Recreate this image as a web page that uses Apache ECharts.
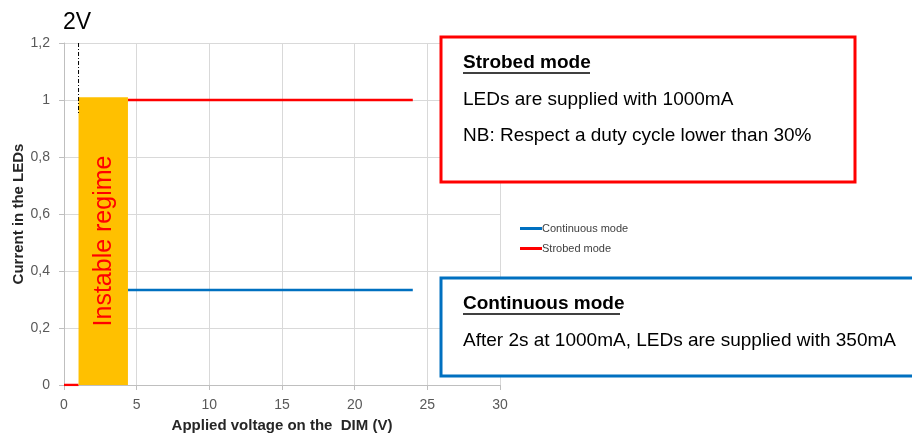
<!DOCTYPE html>
<html>
<head>
<meta charset="utf-8">
<script src="https://cdn.jsdelivr.net/npm/echarts@6/dist/echarts.min.js"></script>
<style>
  html, body { margin: 0; padding: 0; background: #fff; }
  #chart { width: 912px; height: 438px; }
</style>
</head>
<body>
<div id="chart"></div>
<script>
// axes
const xTicks = [0, 5, 10, 15, 20, 25, 30];
const yTicks = [0, 0.2, 0.4, 0.6, 0.8, 1, 1.2];

// series (null = break in the line)
const strobedX = [0, 1, null, 4.4, 24];
const strobedY = [0, 0, null, 1, 1];
const continuousX = [4.4, 24];
const continuousY = [0.333, 0.333];

// instable regime band (x from, x to, top)
const instableX = [1, 4.4];
const instableTop = 1.01;

// 2V marker
const markerX = [1, 1];
const markerY = [1.2, 0.95];

const font = 'Liberation Sans, Arial, sans-serif';

function pairs(xs, ys) {
    return xs.map((x, i) => (x === null ? ['-', '-'] : [x, ys[i]]));
}

const chart = echarts.init(document.getElementById('chart'));

// texte des encadrés
function box(x, y, w, h, color, title, lines, titleY, lineYs, underlineW) {
    const els = [{
        type: 'rect',
        shape: { x: x, y: y, width: w, height: h },
        style: { fill: '#fff', stroke: color, lineWidth: 3 },
        z: 100
    }, {
        type: 'text',
        x: 463, y: titleY,
        style: { text: title, font: 'bold 19px ' + font, fill: '#000', verticalAlign: 'middle' },
        z: 101
    }, {
        type: 'line',
        shape: { x1: 463, y1: titleY + 10, x2: 463 + underlineW, y2: titleY + 10 },
        style: { stroke: '#000', lineWidth: 1.5 },
        z: 101
    }];
    lines.forEach((t, i) => {
        els.push({
            type: 'text',
            x: 463, y: lineYs[i],
            style: { text: t, font: '19px ' + font, fill: '#000', verticalAlign: 'middle' },
            z: 101
        });
    });
    return els;
}

const option = {
    animation: false,
    grid: { left: 64, right: 412, top: 43, bottom: 53, containLabel: false, outerBoundsMode: 'none' },
    legend: {
        orient: 'vertical',
        left: 515,
        top: 218,
        itemWidth: 22,
        itemHeight: 3,
        itemGap: 9,
        icon: 'rect',
        textStyle: { fontSize: 11, color: '#404040', fontFamily: font, padding: [0, 0, 0, -5] },
        data: ['Continuous mode', 'Strobed mode']
    },
    xAxis: {
        type: 'value',
        min: xTicks[0],
        max: xTicks[xTicks.length - 1],
        interval: xTicks[1] - xTicks[0],
        name: 'Applied voltage on the  DIM (V)',
        nameLocation: 'middle',
        nameGap: 33,
        nameTextStyle: { fontSize: 15, fontWeight: 'bold', color: '#262626', fontFamily: font },
        axisLine: { lineStyle: { color: '#bfbfbf' } },
        axisTick: { show: true, length: 5, lineStyle: { color: '#bfbfbf' } },
        axisLabel: { fontSize: 14, color: '#595959', margin: 13, fontFamily: font },
        splitLine: { lineStyle: { color: '#d9d9d9' } }
    },
    yAxis: {
        type: 'value',
        min: yTicks[0],
        max: yTicks[yTicks.length - 1],
        interval: 0.2,
        name: 'Current in the LEDs',
        nameLocation: 'middle',
        nameGap: 37,
        nameTextStyle: { fontSize: 15, fontWeight: 'bold', color: '#262626', fontFamily: font },
        axisLine: { show: true, lineStyle: { color: '#bfbfbf' } },
        axisTick: { show: true, length: 5, lineStyle: { color: '#bfbfbf' } },
        axisLabel: {
            fontSize: 14, color: '#595959', margin: 14, fontFamily: font,
            formatter: v => String(+v.toFixed(1)).replace('.', ',')
        },
        splitLine: { lineStyle: { color: '#d9d9d9' } }
    },
    series: [{
        name: 'Continuous mode',
        type: 'line',
        data: pairs(continuousX, continuousY),
        showSymbol: false,
        color: '#0070c0',
        lineStyle: { width: 2.5, color: '#0070c0' },
        z: 2
    }, {
        name: 'Strobed mode',
        type: 'line',
        data: pairs(strobedX, strobedY),
        showSymbol: false,
        connectNulls: false,
        color: '#ff0000',
        lineStyle: { width: 2.5, color: '#ff0000' },
        z: 2
    }, {
        // bande orange "Instable regime"
        type: 'custom',
        z: 5,
        silent: true,
        data: [[instableX[0], instableX[1], instableTop]],
        renderItem: function (params, api) {
            const p0 = api.coord([api.value(0), api.value(2)]);
            const p1 = api.coord([api.value(1), 0]);
            const w = p1[0] - p0[0];
            const h = p1[1] - p0[1];
            return {
                type: 'group',
                children: [{
                    type: 'rect',
                    shape: { x: p0[0], y: p0[1], width: w, height: h },
                    style: { fill: '#ffc000' }
                }, {
                    type: 'text',
                    x: p0[0] + w / 2 + 1,
                    y: 241,
                    rotation: Math.PI / 2,
                    style: {
                        text: 'Instable regime',
                        font: '25px ' + font,
                        fill: '#ff0000',
                        align: 'center',
                        verticalAlign: 'middle'
                    }
                }]
            };
        }
    }, {
        // ligne pointillée 2V
        type: 'line',
        data: pairs(markerX, markerY),
        showSymbol: false,
        silent: true,
        z: 6,
        lineStyle: { width: 1, color: '#000', type: [4, 2, 1, 2] }
    }],
    graphic: [{
        type: 'text',
        left: 63,
        top: 11,
        style: { text: '2V', font: '23px ' + font, fill: '#000' },
        z: 100
    }]
        .concat(box(441, 37, 414, 145, '#ff0000', 'Strobed mode',
            ['LEDs are supplied with 1000mA', 'NB: Respect a duty cycle lower than 30%'],
            63, [100, 136], 127))
        .concat(box(441, 278, 480, 98, '#0070c0', 'Continuous mode',
            ['After 2s at 1000mA, LEDs are supplied with 350mA'],
            304, [341], 157))
};

chart.setOption(option);
</script>
</body>
</html>
